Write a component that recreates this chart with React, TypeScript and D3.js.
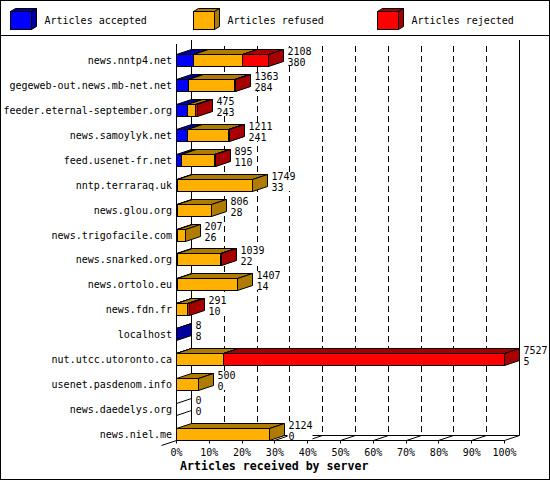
// Articles received by server - 3D stacked bar chart
import React, {useMemo} from 'react';
import * as d3 from 'd3';

const servers = [
  'news.nntp4.net', 'gegeweb-out.news.mb-net.net', 'feeder.eternal-september.org',
  'news.samoylyk.net', 'feed.usenet-fr.net', 'nntp.terraraq.uk', 'news.glou.org',
  'news.trigofacile.com', 'news.snarked.org', 'news.ortolo.eu', 'news.fdn.fr',
  'localhost', 'nut.utcc.utoronto.ca', 'usenet.pasdenom.info', 'news.daedelys.org',
  'news.niel.me',
];
const totals = [2108, 1363, 475, 1211, 895, 1749, 806, 207, 1039, 1407, 291, 8, 7527, 500, 0, 2124];
const accepted = [380, 284, 243, 241, 110, 33, 28, 26, 22, 14, 10, 8, 5, 0, 0, 0];
const refused = [1130, 1054, 202, 945, 755, 1716, 778, 181, 997, 1393, 251, 0, 1078, 500, 0, 2124];
const rejected = [598, 25, 30, 25, 30, 0, 0, 0, 20, 0, 30, 0, 6444, 0, 0, 0];

const seriesNames = ['Articles accepted', 'Articles refused', 'Articles rejected'];
const pctTicks = [0, 10, 20, 30, 40, 50, 60, 70, 80, 90, 100];

const fronts = ['#0000ff', '#ffb000', '#ff0000'];
const darks = ['#0000a0', '#b07c00', '#a80000'];

const FONT = '"DejaVu Sans Mono", monospace';
const DX = 15;
const DY = -5;

const snap = (v: number) => Math.round(v - 0.5) + 0.5;

/** Chart component */
const App: React.FC = () => {
  const width = 550;
  const height = 480;
  const floorY = 440.5;
  const backTop = 40;

  const xScale = useMemo(() => d3.scaleLinear()
      .domain([0, d3.max(totals) as number])
      .range([176.5, 504.5]), []);
  const pctScale = useMemo(() => d3.scaleLinear()
      .domain([0, 100])
      .range([176.5, 504.5]), []);
  const yScale = useMemo(() => d3.scaleBand()
      .domain(servers)
      .range([47.5, 446.5])
      .padding(0), []);

  const face = (pts: [number, number][]) => pts.map(p => p.join(',')).join(' ');

  const renderBar = (name: string, i: number) => {
    const c = Math.round((yScale(name) as number) + yScale.bandwidth() / 2);
    const top = c - 6 + 0.5;
    const bot = c + 6 + 0.5;
    const vals = [accepted[i], refused[i], rejected[i]];
    let cum = 0;
    const parts: JSX.Element[] = [];
    vals.forEach((v, k) => {
      if (v <= 0) return;
      const x0 = snap(xScale(cum));
      cum += v;
      const x1 = snap(xScale(cum));
      parts.push(
          <g key={k} stroke="#000" strokeWidth={1} strokeLinejoin="miter">
            <rect x={x0} y={top} width={x1 - x0} height={bot - top} fill={fronts[k]}/>
            <polygon fill={darks[k]} points={face([[x0, top], [x0 + DX, top + DY], [x1 + DX, top + DY], [x1, top]])}/>
            <polygon fill={darks[k]} points={face([[x1, top], [x1 + DX, top + DY], [x1 + DX, bot + DY], [x1, bot]])}/>
          </g>
      );
    });
    if (totals[i] === 0) {
      const x0 = xScale(0);
      parts.push(
          <polygon key="empty" fill="none" stroke="#000"
                   points={face([[x0, top], [x0 + DX, top + DY], [x0 + DX, bot + DY], [x0, bot]])}/>
      );
    }
    const end = snap(xScale(totals[i])) + DX + 4;
    const labelW = 6 * Math.max(String(totals[i]).length, String(accepted[i]).length) + 1;
    return (
        <g key={name}>
          {parts}
          <text x={172} y={c + 4} textAnchor="end">{name}</text>
          <rect x={end - 1} y={c - 13} width={labelW} height={19} fill="#fff"/>
          <text x={end} y={c - 5}>{totals[i]}</text>
          <text x={end} y={c + 6}>{accepted[i]}</text>
        </g>
    );
  };

  const legendX = [10.5, 193.5, 377.5];

  return (
      <svg width={width} height={height}
           style={{position: 'absolute', left: 0, top: 0, background: '#fff'}}
           fontFamily={FONT} fontSize={10}>
        <rect x={0.5} y={0.5} width={width - 1} height={height - 1} fill="#fff" stroke="#000"/>
        <line x1={0} x2={width} y1={35.5} y2={35.5} stroke="#000"/>

        {/* legend */}
        {seriesNames.map((s, k) => {
          const x = legendX[k];
          const y = 11.5;
          const w = 21;
          const h = 18;
          return (
              <g key={s}>
                <g stroke="#000">
                  <rect x={x} y={y} width={w} height={h} fill={fronts[k]}/>
                  <polygon fill={darks[k]} points={face([[x, y], [x + 5, y - 3], [x + w + 5, y - 3], [x + w, y]])}/>
                  <polygon fill={darks[k]} points={face([[x + w, y], [x + w + 5, y - 3], [x + w + 5, y + h - 3], [x + w, y + h]])}/>
                </g>
                <text x={x + 34} y={24}>{s}</text>
              </g>
          );
        })}

        {/* back wall and floor */}
        <g stroke="#000" fill="none">
          {pctTicks.slice(1, -1).map(t => (
              <line key={`g${t}`} x1={snap(pctScale(t)) + DX} x2={snap(pctScale(t)) + DX}
                    y1={46} y2={floorY + DY} strokeDasharray="6,4"/>
          ))}
          <line x1={pctScale(0) + DX} x2={pctScale(0) + DX} y1={backTop} y2={floorY + DY}/>
          <line x1={pctScale(100) + DX} x2={pctScale(100) + DX} y1={backTop} y2={floorY + DY}/>
          <line x1={pctScale(0) + DX} x2={pctScale(100) + DX} y1={floorY + DY} y2={floorY + DY}/>
          {pctTicks.map(t => (
              <line key={`f${t}`} x1={snap(pctScale(t))} y1={floorY}
                    x2={snap(pctScale(t)) + DX} y2={floorY + DY}/>
          ))}
          <line x1={pctScale(0) - DX} y1={floorY - DY} x2={pctScale(0) + DX} y2={floorY + DY}/>
          <line x1={pctScale(0)} x2={pctScale(0)} y1={44} y2={floorY}/>
          <line x1={pctScale(0)} x2={pctScale(100)} y1={floorY} y2={floorY}/>
          {pctTicks.map(t => (
              <line key={`t${t}`} x1={snap(pctScale(t))} x2={snap(pctScale(t))} y1={floorY} y2={floorY + 3}/>
          ))}
        </g>

        {/* bars */}
        {servers.map(renderBar)}

        {/* x axis labels */}
        {pctTicks.map(t => (
            <text key={`l${t}`} x={pctScale(t)} y={456} textAnchor="middle">{`${t}%`}</text>
        ))}
        <text x={180} y={470} fontWeight="bold" fontSize={11.6}>Articles received by server</text>
      </svg>
  );
};

export default App;
